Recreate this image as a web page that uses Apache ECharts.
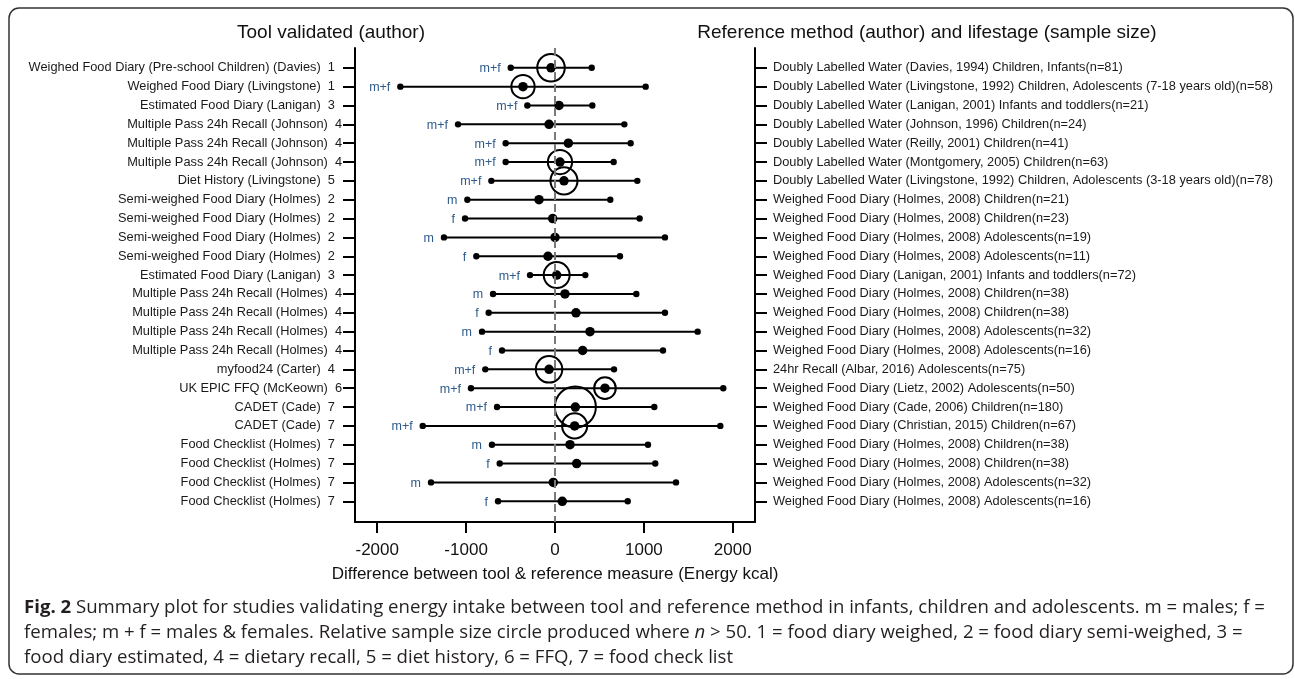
<!DOCTYPE html>
<html>
<head>
<meta charset="utf-8">
<script src="https://cdn.jsdelivr.net/npm/echarts@6/dist/echarts.min.js"></script>
<style>
html,body{margin:0;padding:0;background:#fff;}
#chart{width:1295px;height:679px;}
</style>
</head>
<body>
<div id="chart"></div>
<script>
// ---- data ----
const toolLabels = [
  'Weighed Food Diary (Pre-school Children) (Davies)  1  ',
  'Weighed Food Diary (Livingstone)  1  ',
  'Estimated Food Diary (Lanigan)  3  ',
  'Multiple Pass 24h Recall (Johnson)  4',
  'Multiple Pass 24h Recall (Johnson)  4',
  'Multiple Pass 24h Recall (Johnson)  4',
  'Diet History (Livingstone)  5  ',
  'Semi-weighed Food Diary (Holmes)  2  ',
  'Semi-weighed Food Diary (Holmes)  2  ',
  'Semi-weighed Food Diary (Holmes)  2  ',
  'Semi-weighed Food Diary (Holmes)  2  ',
  'Estimated Food Diary (Lanigan)  3  ',
  'Multiple Pass 24h Recall (Holmes)  4',
  'Multiple Pass 24h Recall (Holmes)  4',
  'Multiple Pass 24h Recall (Holmes)  4',
  'Multiple Pass 24h Recall (Holmes)  4',
  'myfood24 (Carter)  4  ',
  'UK EPIC FFQ (McKeown)  6',
  'CADET (Cade)  7  ',
  'CADET (Cade)  7  ',
  'Food Checklist (Holmes)  7  ',
  'Food Checklist (Holmes)  7  ',
  'Food Checklist (Holmes)  7  ',
  'Food Checklist (Holmes)  7  '
];
const refLabels = [
  'Doubly Labelled Water (Davies, 1994) Children, Infants(n=81)',
  'Doubly Labelled Water (Livingstone, 1992) Children, Adolescents (7-18 years old)(n=58)',
  'Doubly Labelled Water (Lanigan, 2001) Infants and toddlers(n=21)',
  'Doubly Labelled Water (Johnson, 1996) Children(n=24)',
  'Doubly Labelled Water (Reilly, 2001) Children(n=41)',
  'Doubly Labelled Water (Montgomery, 2005) Children(n=63)',
  'Doubly Labelled Water (Livingstone, 1992) Children, Adolescents (3-18 years old)(n=78)',
  'Weighed Food Diary (Holmes, 2008) Children(n=21)',
  'Weighed Food Diary (Holmes, 2008) Children(n=23)',
  'Weighed Food Diary (Holmes, 2008) Adolescents(n=19)',
  'Weighed Food Diary (Holmes, 2008) Adolescents(n=11)',
  'Weighed Food Diary (Lanigan, 2001) Infants and toddlers(n=72)',
  'Weighed Food Diary (Holmes, 2008) Children(n=38)',
  'Weighed Food Diary (Holmes, 2008) Children(n=38)',
  'Weighed Food Diary (Holmes, 2008) Adolescents(n=32)',
  'Weighed Food Diary (Holmes, 2008) Adolescents(n=16)',
  '24hr Recall (Albar, 2016) Adolescents(n=75)',
  'Weighed Food Diary (Lietz, 2002) Adolescents(n=50)',
  'Weighed Food Diary (Cade, 2006) Children(n=180)',
  'Weighed Food Diary (Christian, 2015) Children(n=67)',
  'Weighed Food Diary (Holmes, 2008) Children(n=38)',
  'Weighed Food Diary (Holmes, 2008) Children(n=38)',
  'Weighed Food Diary (Holmes, 2008) Adolescents(n=32)',
  'Weighed Food Diary (Holmes, 2008) Adolescents(n=16)'
];
const sexLabels = ['m+f','m+f','m+f','m+f','m+f','m+f','m+f','m','f','m','f','m+f','m','f','m','f','m+f','m+f','m+f','m+f','m','f','m','f'];
const meanDiff = [-45,-360,45,-67,150,56,101,-180,-26,0,-79,19,112,236,394,311,-67,562,229,221,169,244,-19,82];
const lowerLoA = [-498,-1740,-311,-1091,-555,-555,-716,-986,-1012,-1249,-885,-281,-697,-746,-821,-596,-784,-945,-652,-1488,-709,-622,-1395,-641];
const upperLoA = [413,1020,420,780,851,660,926,622,952,1237,731,341,915,1237,1605,1215,664,1893,1117,1860,1046,1128,1361,818];
const sampleN = [81,58,21,24,41,63,78,21,23,19,11,72,38,38,32,16,75,50,180,67,38,38,32,16];
const xTicks = [-2000,-1000,0,1000,2000];
const rowIdx = toolLabels.map((_, i) => i + 1);

// ---- build ----
const FONT = '"Liberation Sans", Arial, sans-serif';
const CAP = '"Open Sans", "DejaVu Sans Condensed", sans-serif';
const CAPSIZE = 18.6;
const whiskerData = rowIdx.map((r, i) => [meanDiff[i], r, lowerLoA[i], upperLoA[i], i]);
const meanData = rowIdx.map((r, i) => [meanDiff[i], r]);
const circleData = rowIdx.filter((r, i) => sampleN[i] >= 50).map(r => [meanDiff[r-1], r, sampleN[r-1]]);

const chart = echarts.init(document.getElementById('chart'), null, {renderer: 'canvas'});
const yCommon = {
  type: 'value', min: -0.05, max: 25.1, inverse: true,
  axisLine: {show: true, onZero: false, lineStyle: {color: '#000', width: 2}},
  axisTick: {show: true, length: 12, lineStyle: {color: '#000', width: 2}, customValues: rowIdx},
  splitLine: {show: false}
};
chart.setOption({
  animation: false,
  backgroundColor: '#fff',
  grid: {left: 355, top: 48, width: 400, height: 474, containLabel: false},
  xAxis: {
    type: 'value', min: -2250, max: 2250,
    name: 'Difference between tool & reference measure (Energy kcal)',
    nameLocation: 'middle', nameGap: 44,
    nameTextStyle: {fontFamily: FONT, fontSize: 17, color: '#111'},
    axisLine: {show: true, onZero: false, lineStyle: {color: '#000', width: 2}},
    axisTick: {show: true, length: 11, lineStyle: {color: '#000', width: 2}, customValues: xTicks},
    axisLabel: {fontFamily: FONT, fontSize: 17, color: '#111', margin: 20, customValues: xTicks,
      formatter: v => String(v)},
    splitLine: {show: false}
  },
  yAxis: [
    Object.assign({}, yCommon, {
      position: 'left',
      axisLabel: {fontFamily: FONT, fontSize: 12.8, color: '#1a1a1a', margin: 13, customValues: rowIdx,
        formatter: v => toolLabels[Math.round(v) - 1] || ''}
    }),
    Object.assign({}, yCommon, {
      position: 'right',
      axisLabel: {fontFamily: FONT, fontSize: 12.8, color: '#1a1a1a', margin: 18, customValues: rowIdx,
        formatter: v => refLabels[Math.round(v) - 1] || ''}
    })
  ],
  graphic: [
    {type: 'rect', shape: {x: 9, y: 8, width: 1284, height: 666, r: 10}, style: {fill: 'none', stroke: '#333', lineWidth: 1.5}, z: -1},
    {type: 'text', x: 331, y: 33, style: {text: 'Tool validated (author)', font: '19px ' + FONT, fill: '#111', align: 'center', verticalAlign: 'middle'}},
    {type: 'text', x: 927, y: 33, style: {text: 'Reference method (author) and lifestage (sample size)', font: '19px ' + FONT, fill: '#111', align: 'center', verticalAlign: 'middle'}},
    {type: 'text', x: 24, y: 608, style: {
      text: '{b|Fig. 2} Summary plot for studies validating energy intake between tool and reference method in infants, children and adolescents. m = males; f =',
      font: CAPSIZE + 'px ' + CAP, fill: '#231f20', verticalAlign: 'middle',
      rich: {b: {fontWeight: 'bold', fontSize: CAPSIZE, fontFamily: CAP, fill: '#231f20'}}
    }},
    {type: 'text', x: 24, y: 633, style: {
      text: 'females; m + f = males & females. Relative sample size circle produced where {i|n} > 50. 1 = food diary weighed, 2 = food diary semi-weighed, 3 =',
      font: CAPSIZE + 'px ' + CAP, fill: '#231f20', verticalAlign: 'middle',
      rich: {i: {fontStyle: 'italic', fontSize: CAPSIZE, fontFamily: CAP, fill: '#231f20'}}
    }},
    {type: 'text', x: 24, y: 658, style: {
      text: 'food diary estimated, 4 = dietary recall, 5 = diet history, 6 = FFQ, 7 = food check list',
      font: CAPSIZE + 'px ' + CAP, fill: '#231f20', verticalAlign: 'middle'
    }}
  ],
  series: [
    {
      type: 'custom', name: 'LoA', xAxisIndex: 0, yAxisIndex: 0, z: 2,
      encode: {x: [2, 3], y: 1},
      data: whiskerData,
      renderItem: function (params, api) {
        const y = api.value(1);
        const lo = api.coord([api.value(2), y]);
        const hi = api.coord([api.value(3), y]);
        const idx = api.value(4);
        return {type: 'group', children: [
          {type: 'line', shape: {x1: lo[0], y1: lo[1], x2: hi[0], y2: hi[1]}, style: {stroke: '#000', lineWidth: 2}},
          {type: 'circle', shape: {cx: lo[0], cy: lo[1], r: 3.2}, style: {fill: '#000'}},
          {type: 'circle', shape: {cx: hi[0], cy: hi[1], r: 3.2}, style: {fill: '#000'}},
          {type: 'text', x: lo[0] - 10, y: lo[1] + 1, style: {text: sexLabels[idx], fill: '#2f5b8c', font: '12.5px ' + FONT, align: 'right', verticalAlign: 'middle'}}
        ]};
      },
      markLine: {
        silent: true, symbol: 'none', label: {show: false},
        lineStyle: {color: '#7a7a7a', width: 2, type: [8, 4]},
        data: [{xAxis: 0}]
      }
    },
    {
      type: 'scatter', name: 'Mean', z: 3, symbol: 'circle', symbolSize: 9.5,
      itemStyle: {color: '#000', opacity: 1}, data: meanData
    },
    {
      type: 'scatter', name: 'Sample size', z: 4, symbol: 'circle',
      symbolSize: d => 3.06 * Math.sqrt(d[2]),
      itemStyle: {color: 'rgba(0,0,0,0)', borderColor: '#000', borderWidth: 2, opacity: 1},
      data: circleData
    }
  ]
});
</script>
</body>
</html>
